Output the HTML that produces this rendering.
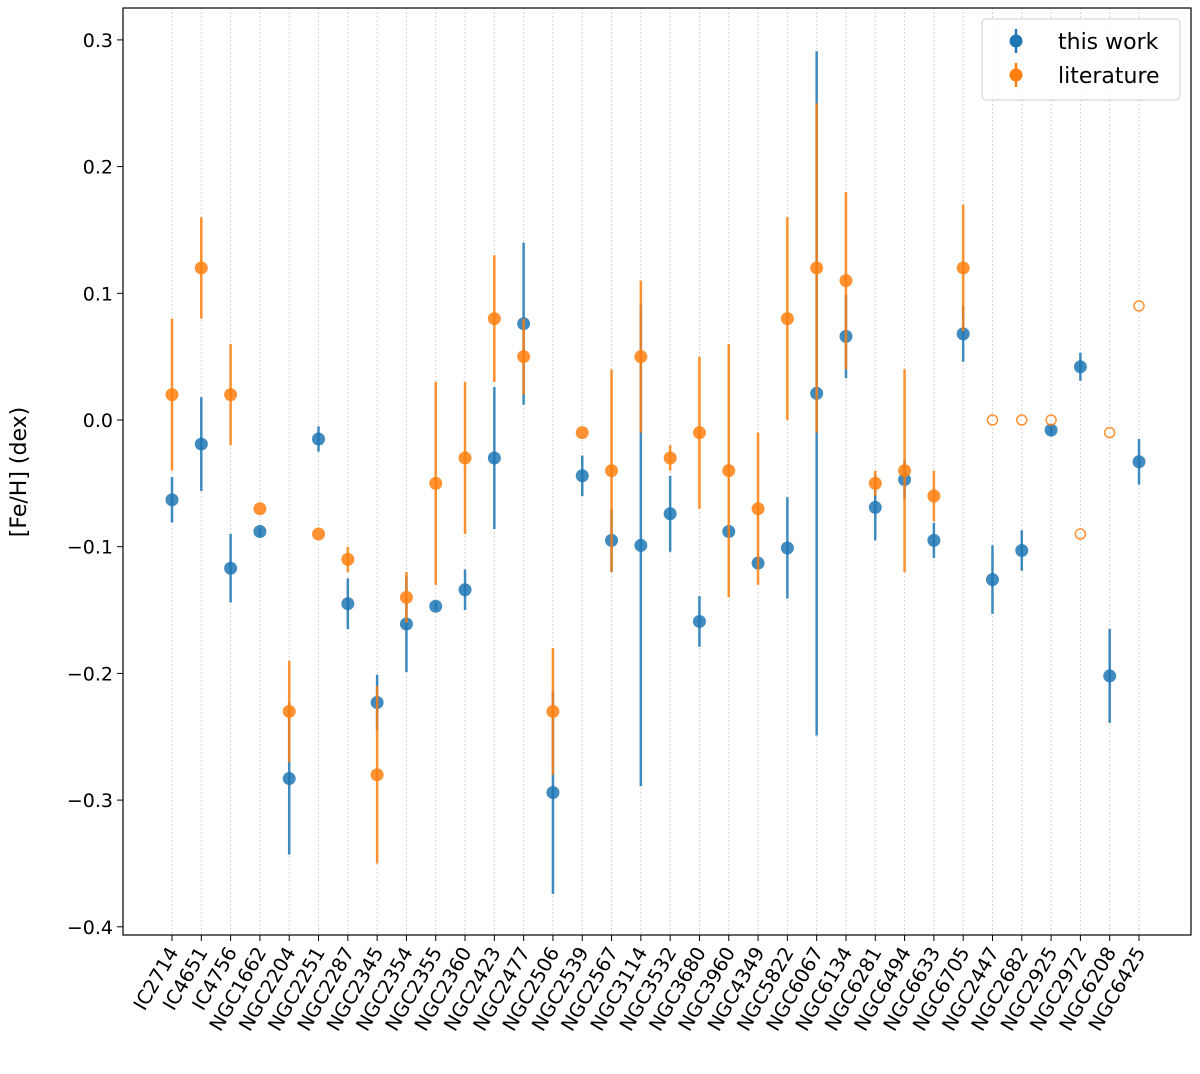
<!DOCTYPE html>
<html><head><meta charset="utf-8"><style>
body{margin:0;background:#fff;}
svg text{font-family:"DejaVu Sans","Liberation Sans",sans-serif;fill:#000;}
</style></head><body>
<svg id="chart" width="1200" height="1069">
<rect x="0" y="0" width="1200" height="1069" fill="#fff"/>
<g id="grid"></g><g id="marks"></g><g id="axes"></g>
</svg>
<script>
const clusters=["IC2714","IC4651","IC4756","NGC1662","NGC2204","NGC2251","NGC2287","NGC2345","NGC2354","NGC2355","NGC2360","NGC2423","NGC2477","NGC2506","NGC2539","NGC2567","NGC3114","NGC3532","NGC3680","NGC3960","NGC4349","NGC5822","NGC6067","NGC6134","NGC6281","NGC6494","NGC6633","NGC6705","NGC2447","NGC2682","NGC2925","NGC2972","NGC6208","NGC6425"];
const workVal=[-0.063,-0.019,-0.117,-0.088,-0.283,-0.015,-0.145,-0.223,-0.161,-0.147,-0.134,-0.030,0.076,-0.294,-0.044,-0.095,-0.099,-0.074,-0.159,-0.088,-0.113,-0.101,0.021,0.066,-0.069,-0.047,-0.095,0.068,-0.126,-0.103,-0.008,0.042,-0.202,-0.033];
const workErr=[0.018,0.037,0.027,0.003,0.060,0.010,0.020,0.022,0.038,0.003,0.016,0.056,0.064,0.080,0.016,0.025,0.190,0.030,0.020,0.004,0.005,0.040,0.270,0.033,0.026,0.015,0.014,0.022,0.027,0.016,0.004,0.011,0.037,0.018];
const litVal=[0.02,0.12,0.02,-0.07,-0.23,-0.09,-0.11,-0.28,-0.14,-0.05,-0.03,0.08,0.05,-0.23,-0.01,-0.04,0.05,-0.03,-0.01,-0.04,-0.07,0.08,0.12,0.11,-0.05,-0.04,-0.06,0.12,0.0,0.0,0.0,-0.09,-0.01,0.09];
const litErr=[0.06,0.04,0.04,0,0.04,0,0.01,0.07,0.02,0.08,0.06,0.05,0.03,0.05,0,0.08,0.06,0.01,0.06,0.10,0.06,0.08,0.13,0.07,0.01,0.08,0.02,0.05,0,0,0,0,0,0];
const litOpen=[0,0,0,0,0,0,0,0,0,0,0,0,0,0,0,0,0,0,0,0,0,0,0,0,0,0,0,0,1,1,1,1,1,1];
const yTicks=[0.3,0.2,0.1,0.0,-0.1,-0.2,-0.3,-0.4];
const yLabels=["0.3","0.2","0.1","0.0","\u22120.1","\u22120.2","\u22120.3","\u22120.4"];

const NS="http://www.w3.org/2000/svg";
const L=123,R=1191,T=8,B=935;
const xS=i=>172+i*(1139-172)/33;
const yS=v=>420-v*1267;
function mk(tag,attrs,parent){const e=document.createElementNS(NS,tag);for(const k in attrs)e.setAttribute(k,attrs[k]);parent.appendChild(e);return e;}
const grid=document.getElementById('grid'),marks=document.getElementById('marks'),axes=document.getElementById('axes');
clusters.forEach((c,i)=>{
 const g=mk('line',{x1:xS(i),x2:xS(i),y1:T,y2:B,stroke:'#c8c8c8','stroke-width':1,'stroke-dasharray':'1.5,2.5'},grid);
 
 
});
const BL='#1f77b4',OR='#ff7f0e';
clusters.forEach((c,i)=>{
 const x=xS(i);
 const e=mk('line',{x1:x,x2:x,y1:yS(workVal[i]-workErr[i]),y2:yS(workVal[i]+workErr[i]),stroke:BL,'stroke-width':2.5,opacity:0.85},marks);
 
 
 const p=mk('circle',{cx:x,cy:yS(workVal[i]),r:6.5,fill:BL,opacity:0.85},marks);
 
 
});
clusters.forEach((c,i)=>{
 const x=xS(i);
 if(!litOpen[i]){
  if(litErr[i]>0){const e=mk('line',{x1:x,x2:x,y1:yS(litVal[i]-litErr[i]),y2:yS(litVal[i]+litErr[i]),stroke:OR,'stroke-width':2.5,opacity:0.85},marks);
  
  }
  const p=mk('circle',{cx:x,cy:yS(litVal[i]),r:6.5,fill:OR,opacity:0.85},marks);
  
  
 }else{
  const p=mk('circle',{cx:x,cy:yS(litVal[i]),r:5,fill:'none',stroke:OR,'stroke-width':1.5,opacity:0.85},marks);
  
  
 }
});
const fr=mk('rect',{x:L,y:T,width:R-L,height:B-T,fill:'none',stroke:'#000','stroke-width':1.2},axes);


yTicks.forEach((v,i)=>{
 mk('line',{x1:L-6,x2:L,y1:yS(v),y2:yS(v),stroke:'#000','stroke-width':1},axes);
 const t=mk('text',{x:L-10,y:yS(v)+7,'text-anchor':'end','font-size':19},axes);
 t.textContent=yLabels[i];
 
 
});
clusters.forEach((c,i)=>{
 const x=xS(i);
 mk('line',{x1:x,x2:x,y1:B,y2:B+6,stroke:'#000','stroke-width':1},axes);
 const t=mk('text',{x:x+7,y:B+17,'text-anchor':'end','font-size':19.5,transform:`rotate(-60 ${x+7} ${B+17})`},axes);
 t.textContent=c;
 
 
});
const yl=mk('text',{x:26,y:472,'text-anchor':'middle','font-size':22,transform:'rotate(-90 26 472)'},axes);
yl.textContent='[Fe/H] (dex)';


const lg=mk('g',{},axes);


mk('rect',{x:982,y:19,width:198,height:81,rx:4,fill:'#fff','fill-opacity':0.8,stroke:'#ccc'},lg);
[[BL,'this work',41],[OR,'literature',75]].forEach(([col,lab,y])=>{
 mk('line',{x1:1016,x2:1016,y1:y-12,y2:y+12,stroke:col,'stroke-width':2.5},lg);
 mk('circle',{cx:1016,cy:y,r:6.5,fill:col},lg);
 const t=mk('text',{x:1058,y:y+8,'font-size':22},lg);
 t.textContent=lab;
 
 
});
</script>
</body></html>
